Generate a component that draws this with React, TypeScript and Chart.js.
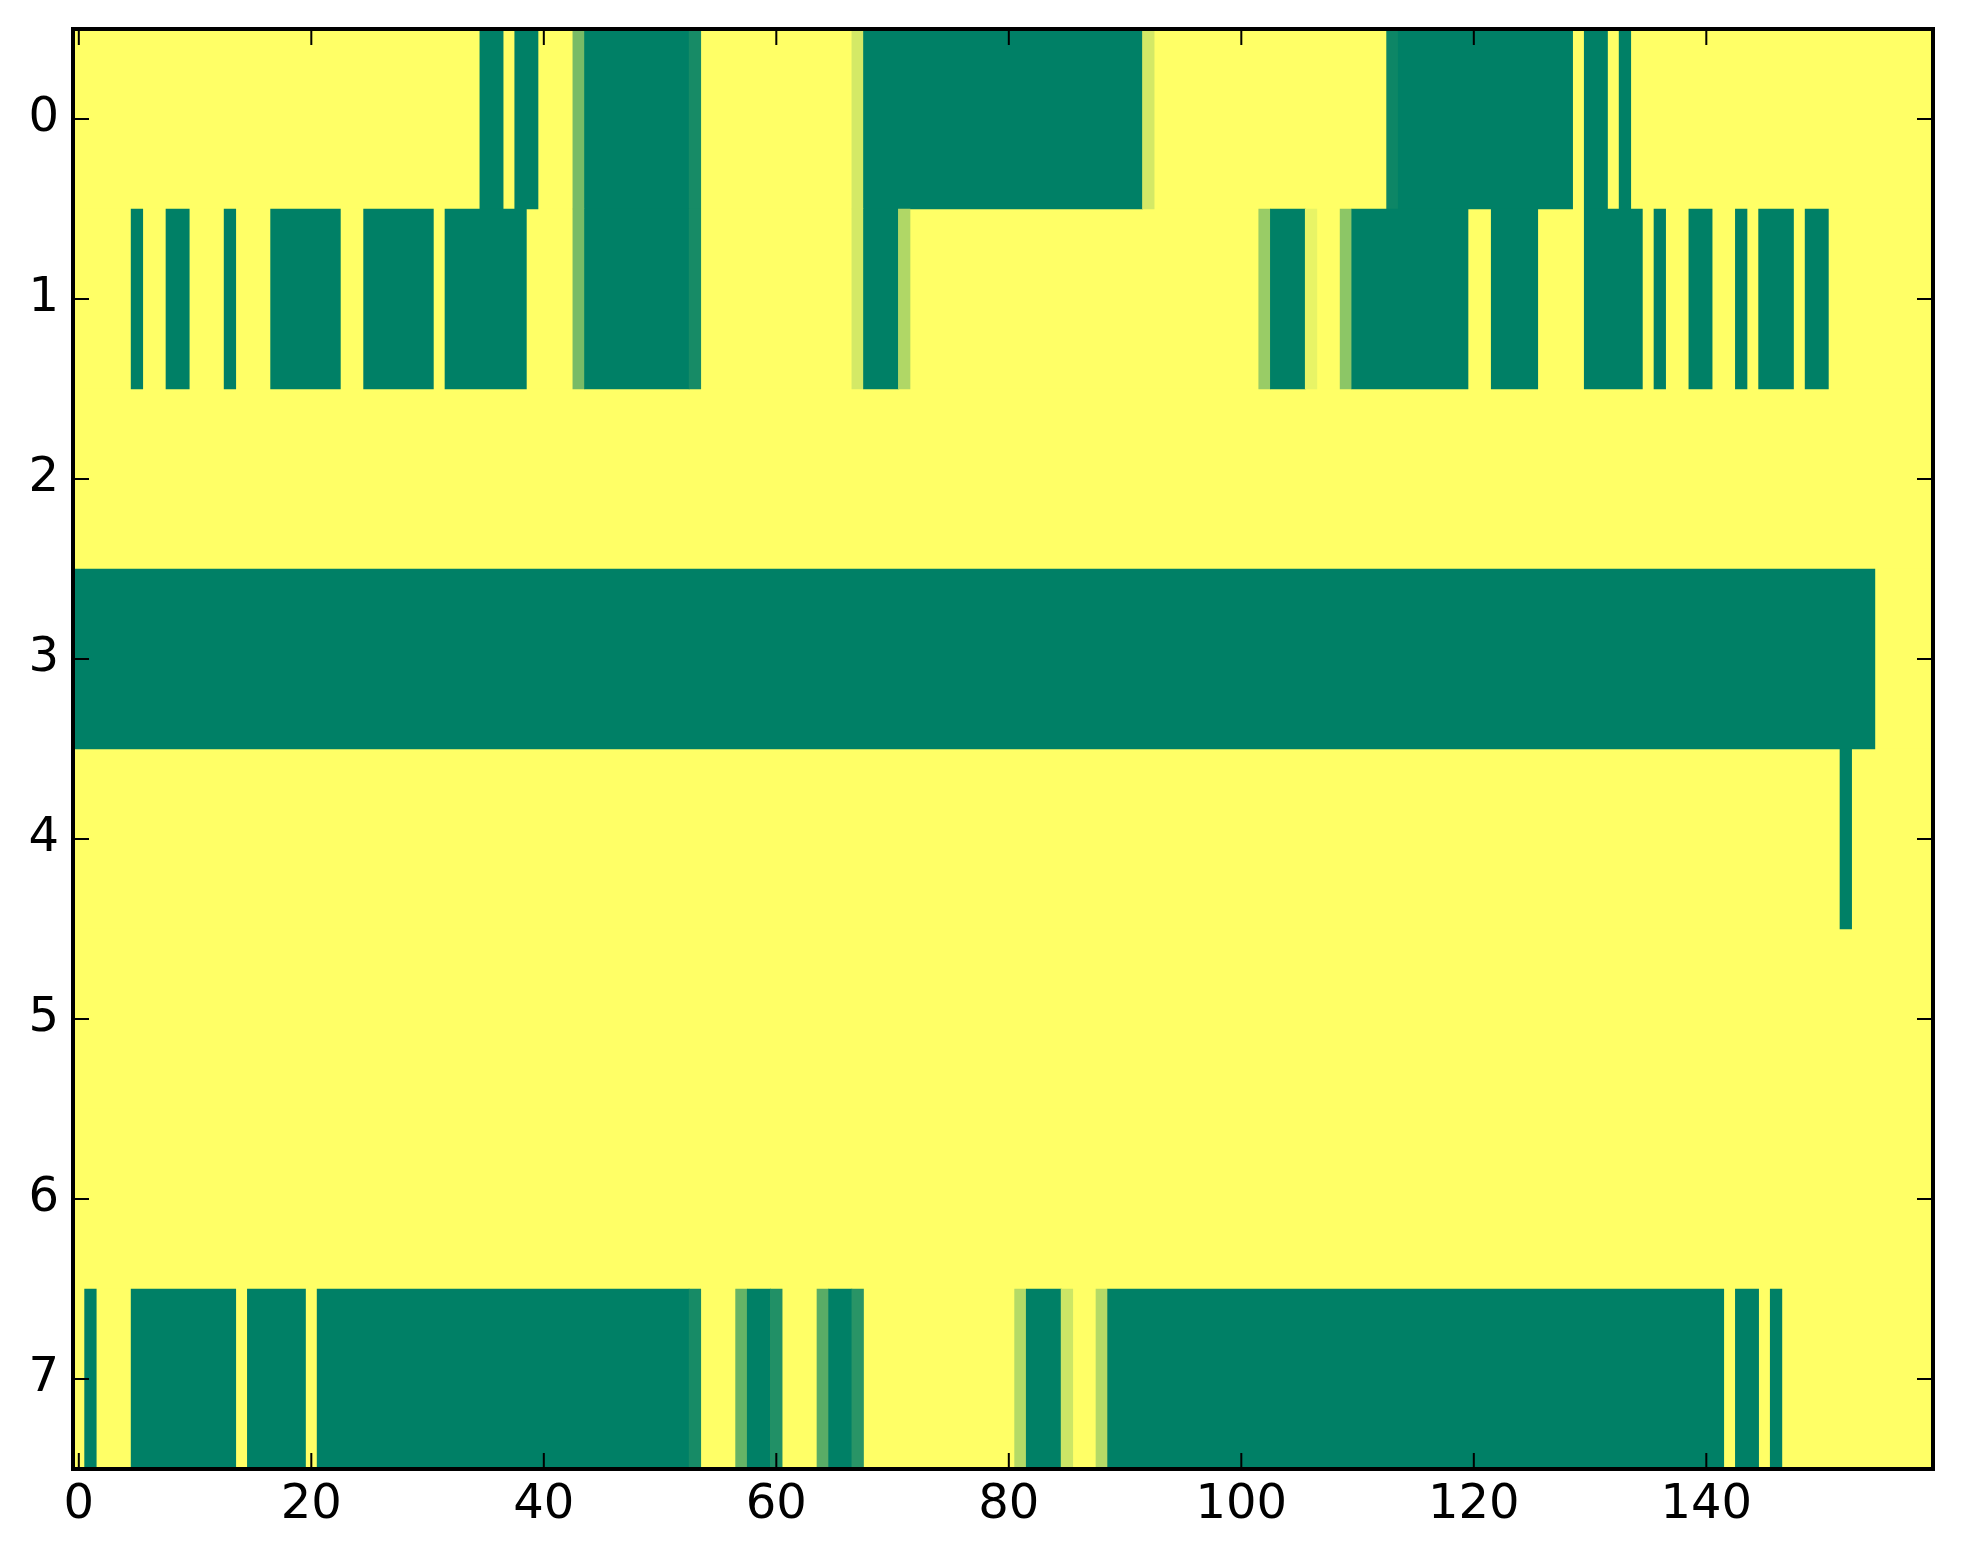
import { useEffect, useRef } from "react";
import { Chart, registerables } from "chart.js";

Chart.register(...registerables);

// grid is 8 rows x 160 columns, cell value 0 (yellow) .. 1 (green)
const columnCount = 160;
const rowLabels = [0, 1, 2, 3, 4, 5, 6, 7];
const xTickValues = [0, 20, 40, 60, 80, 100, 120, 140];

// non-zero runs per row: [first column, last column, value]
const row0 = [
  [35, 36, 1], [38, 39, 1], [43, 43, 0.53], [44, 52, 1], [53, 53, 0.91],
  [67, 67, 0.17], [68, 91, 1], [92, 92, 0.17], [113, 113, 0.95], [114, 128, 1],
  [130, 131, 1], [133, 133, 1],
];
const row1 = [
  [5, 5, 1], [8, 9, 1], [13, 13, 1], [17, 22, 1], [25, 30, 1], [32, 38, 1],
  [43, 43, 0.53], [44, 52, 1], [53, 53, 0.91], [67, 67, 0.17], [68, 70, 1],
  [71, 71, 0.31], [102, 102, 0.4], [103, 105, 1], [106, 106, 0.09],
  [109, 109, 0.45], [110, 119, 1], [122, 125, 1], [130, 134, 1], [136, 136, 1],
  [139, 140, 1], [143, 143, 1], [145, 147, 1], [149, 150, 1],
];
const row2: number[][] = [];
const row3 = [[0, 154, 1]];
const row4 = [[152, 152, 1]];
const row5: number[][] = [];
const row6: number[][] = [];
const row7 = [
  [1, 1, 1], [5, 13, 1], [15, 19, 1], [21, 52, 1], [53, 53, 0.91],
  [57, 57, 0.6], [58, 59, 1], [60, 60, 0.87], [64, 64, 0.65], [65, 66, 1],
  [67, 67, 0.84], [81, 81, 0.29], [82, 84, 1], [85, 85, 0.2], [88, 88, 0.29],
  [89, 141, 1], [143, 144, 1], [146, 146, 1],
];

const rows = [row0, row1, row2, row3, row4, row5, row6, row7];

// matplotlib "summer_r"
function summerR(v: number) {
  const r = Math.round(255 * (1 - v));
  const g = Math.round(255 * (1 - v / 2));
  return `rgb(${r}, ${g}, 102)`;
}

// inward ticks on all four sides + black frame, like classic matplotlib
const framePlugin = {
  id: "frame",
  afterDatasetsDraw(chart: any) {
    const { ctx, chartArea: a, scales } = chart;
    const tl = 16;
    ctx.save();
    ctx.strokeStyle = "#000";
    ctx.lineWidth = 2;
    ctx.beginPath();
    for (const t of scales.x.ticks) {
      const px = scales.x.getPixelForValue(t.value);
      ctx.moveTo(px, a.bottom);
      ctx.lineTo(px, a.bottom - tl);
      ctx.moveTo(px, a.top);
      ctx.lineTo(px, a.top + tl);
    }
    for (const t of scales.y.ticks) {
      const py = scales.y.getPixelForValue(t.value);
      ctx.moveTo(a.left, py);
      ctx.lineTo(a.left + tl, py);
      ctx.moveTo(a.right, py);
      ctx.lineTo(a.right - tl, py);
    }
    ctx.stroke();
    ctx.lineWidth = 4;
    ctx.strokeRect(a.left, a.top, a.right - a.left, a.bottom - a.top);
    ctx.restore();
  },
};

export default function App() {
  const canvasRef = useRef<HTMLCanvasElement | null>(null);

  useEffect(() => {
    document.body.style.margin = "0";
    document.body.style.overflow = "hidden";
    if (!canvasRef.current) return;

    const cells = rows.flatMap((row, r) =>
      row.map(([s, e, v]) => ({ x: [s - 0.5, e + 0.5], y: r, v }))
    );
    const base = rowLabels.map((r) => ({ x: [-0.5, columnCount - 0.5], y: r, v: 0 }));

    const font = { family: "DejaVu Sans", size: 48 };

    const chart = new Chart(canvasRef.current, {
      type: "bar",
      data: {
        datasets: [
          {
            data: cells as any,
            backgroundColor: (c: any) => summerR(c.raw ? c.raw.v : 0),
          },
          {
            data: base as any,
            backgroundColor: (c: any) => summerR(c.raw ? c.raw.v : 0),
          },
        ],
      },
      options: {
        indexAxis: "y",
        responsive: false,
        devicePixelRatio: 1,
        animation: false,
        layout: { padding: { top: 29, right: 30, left: 0, bottom: 0 } },
        datasets: {
          bar: {
            grouped: false,
            barPercentage: 1,
            categoryPercentage: 1,
            borderWidth: 0,
            borderSkipped: false,
          },
        },
        plugins: {
          legend: { display: false },
          tooltip: { enabled: false },
        },
        scales: {
          x: {
            type: "linear",
            position: "bottom",
            offset: false,
            min: -0.5,
            max: columnCount - 0.5,
            afterBuildTicks: (s: any) => {
              s.ticks = xTickValues.map((value) => ({ value }));
            },
            afterFit: (s: any) => {
              s.height = 95;
              s.paddingLeft = 0;
              s.paddingRight = 0;
            },
            grid: { display: false },
            border: { display: false },
            ticks: { color: "#000", font, padding: 0, maxRotation: 0 },
          },
          y: {
            type: "linear",
            reverse: true,
            offset: false,
            min: -0.5,
            max: rowLabels.length - 0.5,
            afterBuildTicks: (s: any) => {
              s.ticks = rowLabels.map((value) => ({ value }));
            },
            afterFit: (s: any) => {
              s.width = 73;
              s.paddingTop = 0;
              s.paddingBottom = 0;
            },
            grid: { display: false },
            border: { display: false },
            ticks: { color: "#000", font, padding: 6 },
          },
        },
      },
      plugins: [framePlugin],
    });

    return () => chart.destroy();
  }, []);

  return (
    <div style={{ width: 1963, height: 1564, background: "#fff" }}>
      <canvas ref={canvasRef} width={1963} height={1564} style={{ display: "block" }} />
    </div>
  );
}
